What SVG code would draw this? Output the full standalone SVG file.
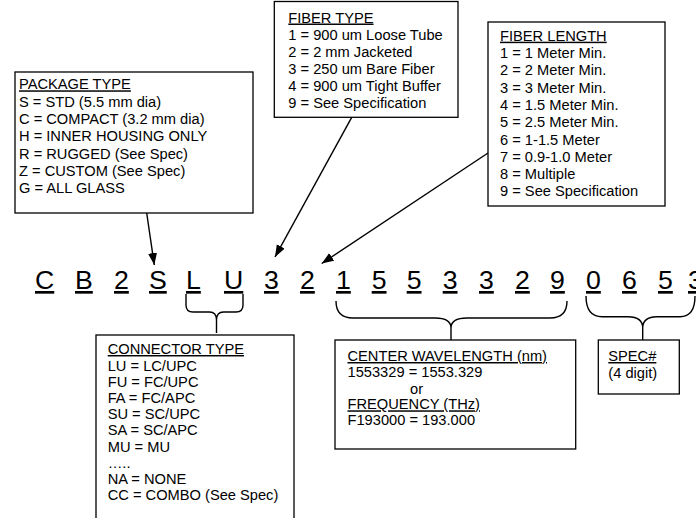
<svg xmlns="http://www.w3.org/2000/svg" width="696" height="518" viewBox="0 0 696 518">
<defs>
<style>
.t{font-family:"Liberation Sans",Arial,sans-serif;font-size:14.67px;fill:#000}
.u{text-decoration:underline}
.code{font-family:"Liberation Sans",Arial,sans-serif;font-size:26.67px;fill:#000;text-decoration:underline}
.box{fill:#fff;stroke:#000;stroke-width:1.3}
.ln{fill:none;stroke:#000;stroke-width:1.4}
</style>
<marker id="ah" markerUnits="userSpaceOnUse" markerWidth="13" markerHeight="10" refX="12" refY="4.5" orient="auto">
<path d="M0,0 L12,4.5 L0,9 z" fill="#000"/>
</marker>
</defs>
<rect width="696" height="518" fill="#fff"/>

<g id="package-type">
<rect class="box" x="15" y="72" width="238" height="141"/>
<text class="t" x="19" y="89.3"><tspan class="u">PACKAGE TYPE</tspan></text>
<text class="t" x="19" y="106.6">S = STD (5.5 mm dia)</text>
<text class="t" x="19" y="123.9">C = COMPACT (3.2 mm dia)</text>
<text class="t" x="19" y="141.2">H = INNER HOUSING ONLY</text>
<text class="t" x="19" y="158.5">R = RUGGED (See Spec)</text>
<text class="t" x="19" y="175.8">Z = CUSTOM (See Spec)</text>
<text class="t" x="19" y="193.1">G = ALL GLASS</text>
</g>

<g id="fiber-type">
<rect class="box" x="274.3" y="1.5" width="183.7" height="115.8"/>
<text class="t" x="288.3" y="22.5"><tspan class="u">FIBER TYPE</tspan></text>
<text class="t" x="288.3" y="39.5">1 = 900 um Loose Tube</text>
<text class="t" x="288.3" y="56.5">2 = 2 mm Jacketed</text>
<text class="t" x="288.3" y="73.5">3 = 250 um Bare Fiber</text>
<text class="t" x="288.3" y="90.5">4 = 900 um Tight Buffer</text>
<text class="t" x="288.3" y="107.5">9 = See Specification</text>
</g>

<g id="fiber-length">
<rect class="box" x="488" y="22" width="177" height="184"/>
<text class="t" x="500" y="40.7"><tspan class="u">FIBER LENGTH</tspan></text>
<text class="t" x="500" y="58">1 = 1 Meter Min.</text>
<text class="t" x="500" y="75.3">2 = 2 Meter Min.</text>
<text class="t" x="500" y="92.6">3 = 3 Meter Min.</text>
<text class="t" x="500" y="109.9">4 = 1.5 Meter Min.</text>
<text class="t" x="500" y="127.2">5 = 2.5 Meter Min.</text>
<text class="t" x="500" y="144.5">6 = 1-1.5 Meter</text>
<text class="t" x="500" y="161.8">7 = 0.9-1.0 Meter</text>
<text class="t" x="500" y="179.1">8 = Multiple</text>
<text class="t" x="500" y="196.4">9 = See Specification</text>
</g>

<g id="part-code">
<text class="code" x="35" y="289">C</text>
<text class="code" x="75" y="289">B</text>
<text class="code" x="114" y="289">2</text>
<text class="code" x="149" y="289">S</text>
<text class="code" x="186" y="289">L</text>
<text class="code" x="224" y="289">U</text>
<text class="code" x="264" y="289">3</text>
<text class="code" x="300" y="289">2</text>
<text class="code" x="336" y="289">1</text>
<text class="code" x="371.7" y="289">5</text>
<text class="code" x="406.7" y="289">5</text>
<text class="code" x="442.7" y="289">3</text>
<text class="code" x="479" y="289">3</text>
<text class="code" x="515" y="289">2</text>
<text class="code" x="550" y="289">9</text>
<text class="code" x="586" y="289">0</text>
<text class="code" x="622" y="289">6</text>
<text class="code" x="658" y="289">5</text>
<text class="code" x="688" y="289">3</text>
</g>

<g id="connector-type">
<rect class="box" x="96" y="335" width="198" height="200"/>
<text class="t" x="107.7" y="354"><tspan class="u">CONNECTOR TYPE</tspan></text>
<text class="t" x="107.7" y="371">LU = LC/UPC</text>
<text class="t" x="107.7" y="387.1">FU = FC/UPC</text>
<text class="t" x="107.7" y="403.2">FA = FC/APC</text>
<text class="t" x="107.7" y="419.3">SU = SC/UPC</text>
<text class="t" x="107.7" y="435.4">SA = SC/APC</text>
<text class="t" x="107.7" y="451.5">MU = MU</text>
<text class="t" x="107.7" y="467.6">…..</text>
<text class="t" x="107.7" y="483.7">NA = NONE</text>
<text class="t" x="107.7" y="499.8">CC = COMBO (See Spec)</text>
</g>

<g id="center-wavelength">
<rect class="box" x="335" y="340" width="240.7" height="109"/>
<text class="t" x="347.5" y="361"><tspan class="u">CENTER WAVELENGTH (nm)</tspan></text>
<text class="t" x="347.5" y="377.3">1553329 = 1553.329</text>
<text class="t" x="410" y="394">or</text>
<text class="t" x="347.5" y="409.3"><tspan class="u">FREQUENCY (THz)</tspan></text>
<text class="t" x="347.5" y="425">F193000 = 193.000</text>
</g>

<g id="spec-number">
<rect class="box" x="598.3" y="340" width="81" height="54"/>
<text class="t" x="608.3" y="361"><tspan class="u">SPEC#</tspan></text>
<text class="t" x="608.3" y="378">(4 digit)</text>
</g>

<g id="connectors">
<line class="ln" x1="146.7" y1="213" x2="154.3" y2="265" marker-end="url(#ah)"/>
<line class="ln" x1="351.7" y1="117.3" x2="275" y2="257" marker-end="url(#ah)"/>
<line class="ln" x1="488" y1="153" x2="321.7" y2="263.5" marker-end="url(#ah)"/>
<path class="ln" d="M186,294 V305 Q186,312 193,312 H209.5 Q216.5,312 216.5,320 V333 M243,294 V305 Q243,312 236,312 H223.5 Q216.5,312 216.5,320"/>
<path class="ln" d="M336,301 Q336,318 353,318 H435 Q451,318 451,328 V340 M567,301 Q567,318 550,318 H467 Q451,318 451,328"/>
<path class="ln" d="M586,296 Q586,316.7 602,316.7 H628 Q642.7,316.7 642.7,328 V340 M695,296 Q695,316.7 680,316.7 H657 Q642.7,316.7 642.7,328"/>
</g>
</svg>
